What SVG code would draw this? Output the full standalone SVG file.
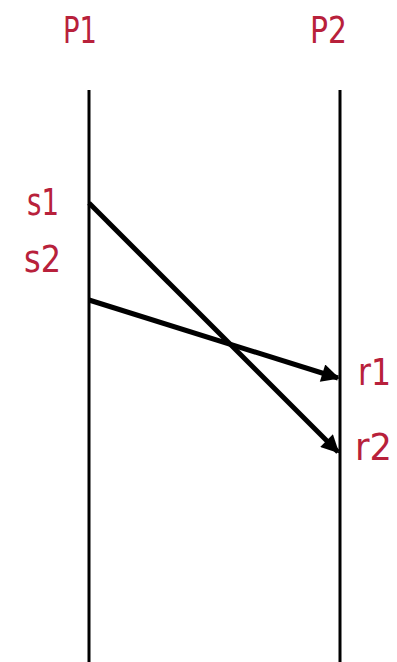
<svg xmlns="http://www.w3.org/2000/svg" width="397" height="662" viewBox="0 0 397 662">
<defs>
<style>
.lbl{font-family:"DejaVu Sans","Liberation Sans",sans-serif;font-size:37px;fill:#b8213b}
.life{stroke:#000;stroke-width:3}
.msg{stroke:#000;stroke-width:5;fill:none}
</style>
<marker id="ah" viewBox="0 0 10 10" refX="9" refY="5" markerWidth="4" markerHeight="3.6" markerUnits="strokeWidth" orient="auto">
<path d="M0,0 L10,5 L0,10 Z" fill="#000"/>
</marker>
</defs>
<rect width="397" height="662" fill="#fff"/>
<g id="P1">
<text class="lbl" x="63" y="43" textLength="34" lengthAdjust="spacingAndGlyphs">P1</text>
<line class="life" x1="89" y1="90" x2="89" y2="662"/>
</g>
<g id="P2">
<text class="lbl" x="310" y="43" textLength="37" lengthAdjust="spacingAndGlyphs">P2</text>
<line class="life" x1="340" y1="90" x2="340" y2="662"/>
</g>
<g id="labels">
<text class="lbl" x="27" y="215" textLength="32" lengthAdjust="spacingAndGlyphs">s1</text>
<text class="lbl" x="24" y="272" textLength="37" lengthAdjust="spacingAndGlyphs">s2</text>
<text class="lbl" x="358" y="385" textLength="33" lengthAdjust="spacingAndGlyphs">r1</text>
<text class="lbl" x="355" y="460" textLength="37" lengthAdjust="spacingAndGlyphs">r2</text>
</g>
<g id="connectors">
<line class="msg" x1="89" y1="203" x2="338" y2="452" marker-end="url(#ah)"/>
<line class="msg" x1="89" y1="300" x2="338" y2="378" marker-end="url(#ah)"/>
</g>
</svg>
